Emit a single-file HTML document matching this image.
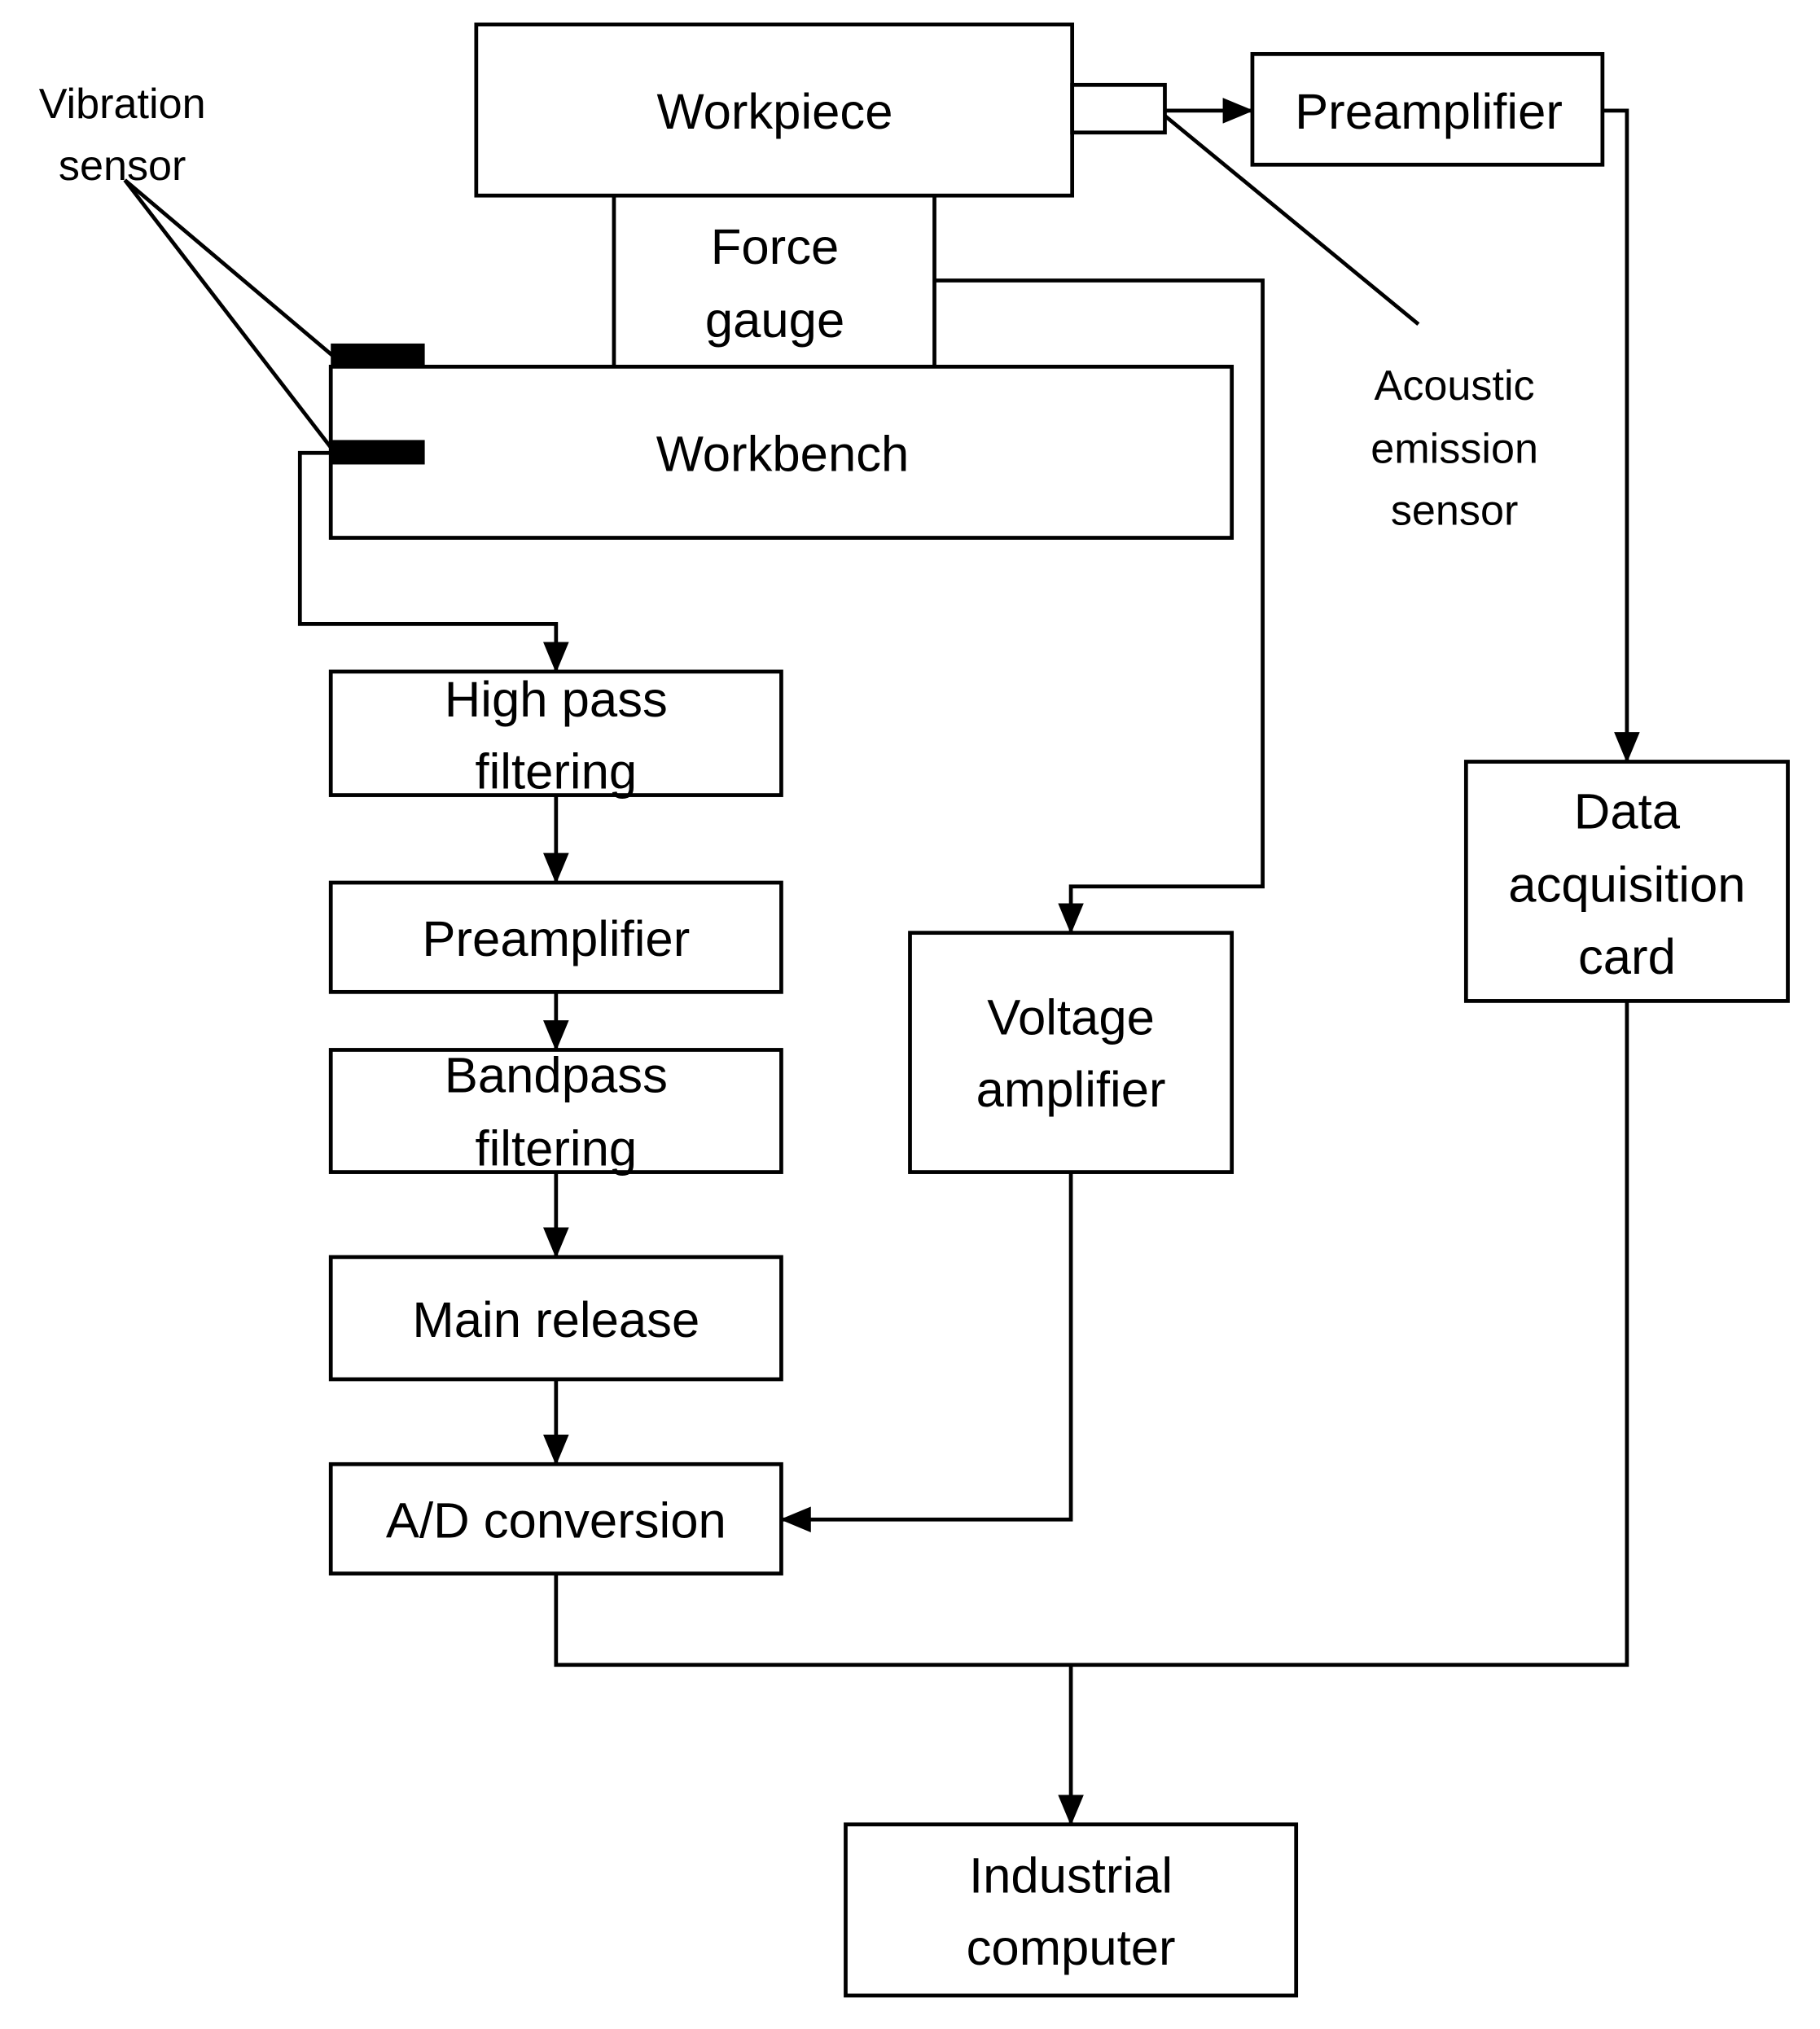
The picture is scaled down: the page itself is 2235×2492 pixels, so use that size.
<!DOCTYPE html>
<html><head><style>html,body{margin:0;padding:0;background:#fff}svg{display:block}</style></head>
<body>
<svg width="2235" height="2492" viewBox="0 0 1414 1577" preserveAspectRatio="none" xmlns="http://www.w3.org/2000/svg">
<defs>
<marker id="b" markerWidth="24" markerHeight="20" refX="23" refY="10" orient="auto" markerUnits="userSpaceOnUse"><path d="M0,0 L24,10 L0,20 z" fill="#000"/></marker>
</defs>
<g fill="none" stroke="#000" stroke-width="3">
<rect x="370" y="19" width="463" height="133"/>
<line x1="477" y1="152" x2="477" y2="285"/><line x1="726" y1="152" x2="726" y2="285"/>
<rect x="257" y="285" width="700" height="133"/>
<rect x="257" y="522" width="350" height="96"/>
<rect x="257" y="686" width="350" height="85"/>
<rect x="257" y="816" width="350" height="95"/>
<rect x="257" y="977" width="350" height="95"/>
<rect x="257" y="1138" width="350" height="85"/>
<rect x="707" y="725" width="250" height="186"/>
<rect x="833" y="66" width="72" height="37"/>
<rect x="973" y="42" width="272" height="86"/>
<rect x="1139" y="592" width="250" height="186"/>
<rect x="657" y="1418" width="350" height="133"/>
<line x1="97" y1="140" x2="258" y2="276"/><line x1="97" y1="140" x2="258" y2="349"/>
<line x1="905" y1="90" x2="1102" y2="252"/>
<polyline points="257,352 233,352 233,485 432,485 432,522" marker-end="url(#b)"/>
<line x1="432" y1="618" x2="432" y2="686" marker-end="url(#b)"/>
<line x1="432" y1="771" x2="432" y2="816" marker-end="url(#b)"/>
<line x1="432" y1="911" x2="432" y2="977" marker-end="url(#b)"/>
<line x1="432" y1="1072" x2="432" y2="1138" marker-end="url(#b)"/>
<polyline points="726,218 981,218 981,689 832,689 832,725" marker-end="url(#b)"/>
<polyline points="832,911 832,1181 607,1181" marker-end="url(#b)"/>
<line x1="905" y1="86" x2="973" y2="86" marker-end="url(#b)"/>
<polyline points="1245,86 1264,86 1264,592" marker-end="url(#b)"/>
<polyline points="1264,778 1264,1294 432,1294 432,1223"/>
<line x1="832" y1="1294" x2="832" y2="1418" marker-end="url(#b)"/>
</g>
<rect x="257" y="267" width="73" height="18" fill="#000"/>
<rect x="257" y="342" width="73" height="19" fill="#000"/>
<g font-family="Liberation Sans, sans-serif" font-size="39" text-anchor="middle" dominant-baseline="central" fill="#000">
<text x="602" y="87">Workpiece</text>
<text x="602" y="192">Force</text><text x="602" y="249">gauge</text>
<text x="608" y="353">Workbench</text>
<text x="432" y="544">High pass</text><text x="432" y="600">filtering</text>
<text x="432" y="730">Preamplifier</text>
<text x="432" y="836">Bandpass</text><text x="432" y="893">filtering</text>
<text x="432" y="1026">Main release</text>
<text x="432" y="1182">A/D conversion</text>
<text x="832" y="791">Voltage</text><text x="832" y="847">amplifier</text>
<text x="1110" y="87">Preamplifier</text>
<text x="1264" y="631">Data</text><text x="1264" y="688">acquisition</text><text x="1264" y="744">card</text>
<text x="832" y="1458">Industrial</text><text x="832" y="1514">computer</text>
<g font-size="33">
<text x="95" y="81">Vibration</text><text x="95" y="129">sensor</text>
<text x="1130" y="300">Acoustic</text><text x="1130" y="349">emission</text><text x="1130" y="397">sensor</text>
</g>
</g>
</svg>
</body></html>
